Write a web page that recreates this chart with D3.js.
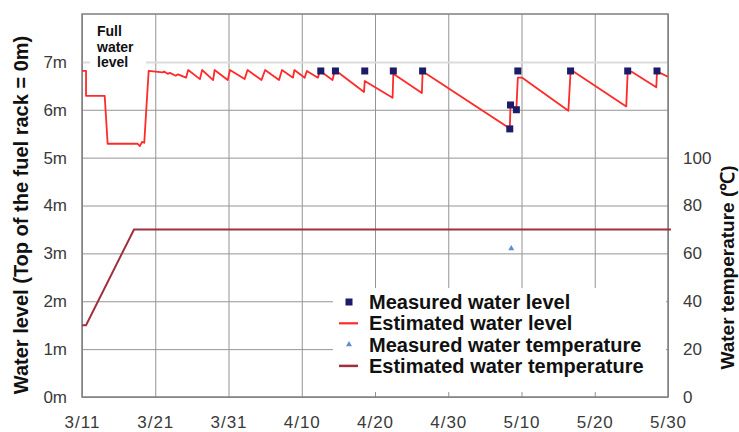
<!DOCTYPE html>
<html>
<head>
<meta charset="utf-8">
<script src="https://cdn.jsdelivr.net/npm/d3@7"></script>
<style>
  body { margin: 0; background: #fff; }
  svg { display: block; font-family: "Liberation Sans", Arial, sans-serif; }
</style>
</head>
<body>
<div id="chart"></div>
<script>
// days counted from 3/11
const dateTicks = [0, 10, 20, 30, 40, 50, 60, 70, 80];
const dateLabels = ["3/11", "3/21", "3/31", "4/10", "4/20", "4/30", "5/10", "5/20", "5/30"];
const levelTicks = [0, 1, 2, 3, 4, 5, 6, 7];
const tempTicks = [0, 20, 40, 60, 80, 100];

const estLevelDay = [0, 0.55, 0.55, 3.1, 3.5, 7.6, 7.9, 8.2, 8.5, 9.1, 11.0, 11.2, 11.7, 12.0, 12.8, 13.1,
  14.2, 14.5, 16.1, 16.4, 17.9, 18.1, 19.9, 20.2, 22.2, 22.6, 24.5, 25.0, 26.9, 27.3, 28.8, 29.0,
  30.4, 30.7, 32.2, 32.5, 34.2, 34.5, 34.9, 38.5, 38.6, 42.4, 42.5, 43.1, 46.4, 46.5, 47.0,
  58.4, 58.5, 59.3, 59.5, 60.1, 66.4, 66.7, 67.2, 74.3, 74.5, 75.1, 78.4, 78.5, 79.2, 80.0];
const estLevelM = [6.81, 6.81, 6.29, 6.29, 5.29, 5.29, 5.24, 5.33, 5.31, 6.81, 6.78, 6.80, 6.75, 6.77, 6.71, 6.74,
  6.67, 6.83, 6.64, 6.83, 6.62, 6.83, 6.62, 6.83, 6.64, 6.83, 6.62, 6.83, 6.62, 6.83, 6.67, 6.83,
  6.67, 6.81, 6.67, 6.81, 6.62, 6.81, 6.79, 6.37, 6.60, 6.25, 6.75, 6.69, 6.35, 6.79, 6.75,
  5.61, 6.10, 6.02, 6.67, 6.67, 5.98, 6.80, 6.79, 6.07, 6.80, 6.79, 6.47, 6.80, 6.75, 6.69];

const measLevelDay = [32.6, 34.6, 38.6, 42.5, 46.5, 58.4, 58.5, 59.3, 59.5, 66.7, 74.5, 78.5];
const measLevelM = [6.81, 6.81, 6.81, 6.81, 6.81, 5.60, 6.10, 6.00, 6.81, 6.81, 6.81, 6.81];

const estTempDay = [0, 0.55, 7.1, 80.4];
const estTempC = [30, 30, 70, 70];
const measTempDay = [58.6];
const measTempC = [62];

const width = 739, height = 432;
const margin = { top: 14, right: 71, bottom: 35, left: 82 };

const svg = d3.select("#chart").append("svg")
  .attr("width", width).attr("height", height);

const x = d3.scaleLinear().domain([0, 80]).range([margin.left, width - margin.right]);
const y = d3.scaleLinear().domain([0, 8]).range([height - margin.bottom, margin.top]);
const yT = d3.scaleLinear().domain([0, 160]).range([height - margin.bottom, margin.top]);

// grid
svg.append("g")
  .attr("transform", `translate(0,${height - margin.bottom})`)
  .call(d3.axisBottom(x).tickValues(dateTicks).tickSize(-(height - margin.top - margin.bottom)).tickFormat(""))
  .call(g => g.select(".domain").remove())
  .call(g => g.selectAll("line").attr("stroke", "#949494"));
svg.append("g")
  .attr("transform", `translate(${margin.left},0)`)
  .call(d3.axisLeft(y).tickValues(levelTicks).tickSize(-(width - margin.left - margin.right)).tickFormat(""))
  .call(g => g.select(".domain").remove())
  .call(g => g.selectAll("line").attr("stroke", d => d === 7 ? "#dcdcdc" : "#949494")
    .attr("stroke-width", d => d === 7 ? 2 : 1));

// legend background
svg.append("rect").attr("x", 333).attr("y", 288).attr("width", 333).attr("height", 104).attr("fill", "#fff");

// frame
svg.append("rect")
  .attr("x", margin.left).attr("y", margin.top)
  .attr("width", width - margin.left - margin.right)
  .attr("height", height - margin.top - margin.bottom)
  .attr("fill", "none").attr("stroke", "#7f7f7f").attr("stroke-width", 1.5);

// "Full water level" note
svg.append("rect").attr("x", 90).attr("y", 18).attr("width", 56).attr("height", 52).attr("fill", "#fff");
const note = svg.append("text").attr("x", 97).attr("y", 36)
  .attr("font-size", 14).attr("font-weight", "bold").attr("fill", "#111");
["Full", "water", "level"].forEach((t, i) => note.append("tspan").attr("x", 97).attr("dy", i ? 15.5 : 0).text(t));

// axes labels
svg.append("g")
  .attr("transform", `translate(${margin.left},0)`)
  .call(d3.axisLeft(y).tickValues(levelTicks).tickSize(0).tickPadding(15).tickFormat(d => d + "m"))
  .call(g => g.select(".domain").remove())
  .call(g => g.selectAll("text").attr("font-size", 17).attr("fill", "#3a3a3a").attr("font-family", null));
svg.append("g")
  .attr("transform", `translate(${width - margin.right},0)`)
  .call(d3.axisRight(yT).tickValues(tempTicks).tickSize(0).tickPadding(15))
  .call(g => g.select(".domain").remove())
  .call(g => g.selectAll("text").attr("font-size", 17).attr("fill", "#3a3a3a").attr("font-family", null));
svg.append("g")
  .attr("transform", `translate(0,${height - margin.bottom})`)
  .call(d3.axisBottom(x).tickValues(dateTicks).tickSize(0).tickPadding(19).tickFormat((d, i) => dateLabels[i]))
  .call(g => g.select(".domain").remove())
  .call(g => g.selectAll("text").attr("font-size", 17).attr("fill", "#3a3a3a")
    .attr("font-family", null).attr("letter-spacing", 1));

// axis titles
svg.append("text")
  .attr("transform", `translate(21,${(height - margin.bottom + 33) / 2}) rotate(-90)`)
  .attr("text-anchor", "middle").attr("dominant-baseline", "central")
  .attr("font-size", 20).attr("font-weight", "bold").attr("fill", "#111")
  .text("Water level (Top of the fuel rack = 0m)");
svg.append("text")
  .attr("transform", `translate(727,${(160 + 375) / 2}) rotate(-90)`)
  .attr("text-anchor", "middle").attr("dominant-baseline", "central")
  .attr("font-size", 19).attr("font-weight", "bold").attr("fill", "#111")
  .text("Water temperature (℃)");

// estimated temperature
const tempLine = d3.line().x(d => x(d[0])).y(d => yT(d[1]));
svg.append("path")
  .datum(d3.zip(estTempDay, estTempC))
  .attr("d", tempLine).attr("fill", "none").attr("stroke", "#9e3040").attr("stroke-width", 2);

// estimated level
const levelLine = d3.line().x(d => x(d[0])).y(d => y(d[1]));
svg.append("path")
  .datum(d3.zip(estLevelDay, estLevelM))
  .attr("d", levelLine).attr("fill", "none").attr("stroke", "#ff2a2a").attr("stroke-width", 1.8)
  .attr("stroke-linejoin", "round");

// measured level
svg.append("g").selectAll("rect")
  .data(d3.zip(measLevelDay, measLevelM))
  .join("rect")
  .attr("x", d => x(d[0]) - 3.5).attr("y", d => y(d[1]) - 3.5)
  .attr("width", 7).attr("height", 7).attr("fill", "#1c1c6a");

// measured temperature
const tri = d3.symbol().type(d3.symbolTriangle).size(16);
svg.append("g").selectAll("path")
  .data(d3.zip(measTempDay, measTempC))
  .join("path")
  .attr("transform", d => `translate(${x(d[0])},${yT(d[1])})`)
  .attr("d", tri).attr("fill", "#5f8fcf");

// legend
const legendItems = ["Measured water level", "Estimated water level", "Measured water temperature", "Estimated water temperature"];
const lg = svg.append("g");
legendItems.forEach((t, i) => {
  const cy = 302 + i * 21.3;
  if (i === 0) lg.append("rect").attr("x", 345.5).attr("y", cy - 3.5).attr("width", 7).attr("height", 7).attr("fill", "#1c1c6a");
  if (i === 1) lg.append("line").attr("x1", 339).attr("x2", 358).attr("y1", cy).attr("y2", cy).attr("stroke", "#ff2a2a").attr("stroke-width", 2.2);
  if (i === 2) lg.append("path").attr("transform", `translate(349,${cy})`).attr("d", tri).attr("fill", "#5f8fcf");
  if (i === 3) lg.append("line").attr("x1", 339).attr("x2", 358).attr("y1", cy).attr("y2", cy).attr("stroke", "#9e3040").attr("stroke-width", 2.5);
  lg.append("text").attr("x", 369).attr("y", cy).attr("dominant-baseline", "central")
    .attr("font-size", 20).attr("font-weight", "bold").attr("fill", "#111").text(t);
});
</script>
</body>
</html>
